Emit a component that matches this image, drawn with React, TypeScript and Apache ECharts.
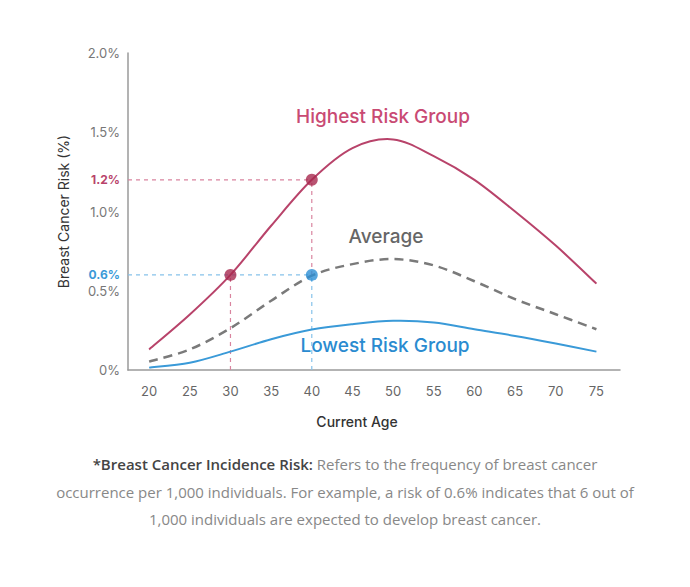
import React, { useEffect, useRef } from "react";
import * as echarts from "echarts";

const ages = [20, 25, 30, 35, 40, 45, 50, 55, 60, 65, 70, 75];
const highest = [0.13, 0.35, 0.6, 0.91, 1.2, 1.4, 1.455, 1.35, 1.2, 1.0, 0.785, 0.545];
const average = [0.053, 0.13, 0.264, 0.437, 0.595, 0.668, 0.7, 0.66, 0.56, 0.447, 0.352, 0.257];
const lowest = [0.015, 0.046, 0.116, 0.194, 0.255, 0.289, 0.31, 0.3, 0.257, 0.215, 0.167, 0.116];
const yTicks = [0, 0.5, 0.6, 1.0, 1.2, 1.5, 2.0];
const pinkDots = [[30, 0.6], [40, 1.2]];
const blueDots = [[40, 0.6]];
const X_MIN = 17.4;
const X_MAX = 77.9;

const PINK = "#b8436a";
const PINK_LIGHT = "#d9849f";
const BLUE = "#3a9ad8";
const BLUE_LIGHT = "#86c2ea";
const FONT = "Inter, 'Noto Sans', sans-serif";
const NOTE_FONT = "'Open Sans', sans-serif";

function curveSeries(name: string, values: number[], stroke: string, lineWidth: number, lineDash?: number[]) {
  return {
    type: "custom",
    name,
    z: 3,
    silent: true,
    data: ages.map((a, i) => [a, values[i]]),
    encode: { x: 0, y: 1 },
    renderItem: (params: any, api: any) => {
      if (params.dataIndex !== 0) return { type: "group", children: [] };
      const p = ages.map((a, i) => api.coord([a, values[i]]) as number[]);
      let d = `M${p[0][0]},${p[0][1]}`;
      for (let i = 0; i < p.length - 1; i++) {
        const p0 = p[Math.max(0, i - 1)];
        const p1 = p[i];
        const p2 = p[i + 1];
        const p3 = p[Math.min(p.length - 1, i + 2)];
        const c1x = p1[0] + (p2[0] - p0[0]) / 6;
        const c1y = p1[1] + (p2[1] - p0[1]) / 6;
        const c2x = p2[0] - (p3[0] - p1[0]) / 6;
        const c2y = p2[1] - (p3[1] - p1[1]) / 6;
        d += ` C${c1x},${c1y} ${c2x},${c2y} ${p2[0]},${p2[1]}`;
      }
      return {
        type: "path",
        shape: { pathData: d },
        style: { fill: "none", stroke, lineWidth, lineDash: lineDash || null, lineCap: "butt" },
      };
    },
  };
}

export default function App() {
  const ref = useRef<HTMLDivElement>(null);
  useEffect(() => {
    document.body.style.margin = "0";
    const chart = echarts.init(ref.current!, null, { renderer: "svg" });
    const dashLine = (data: number[][], color: string) => ({
      type: "line",
      data,
      symbol: "none",
      silent: true,
      z: 1,
      lineStyle: { color, width: 1.2, type: [4, 4] },
    });
    const noteStyle = {
      fill: "#888",
      fontSize: 15,
      fontFamily: NOTE_FONT,
      align: "center",
      verticalAlign: "middle",
    };
    chart.setOption({
      animation: false,
      textStyle: { fontFamily: FONT },
      grid: { left: 128, right: 70, top: 53, bottom: 217 },
      xAxis: {
        type: "value",
        min: X_MIN,
        max: X_MAX,
        name: "Current Age",
        nameLocation: "middle",
        nameGap: 44,
        nameTextStyle: { fontSize: 14, color: "#333", fontWeight: 500, fontFamily: FONT, padding: [0, 34, 0, 0] },
        axisLine: { lineStyle: { color: "#9a9a9a", width: 1.5 } },
        axisTick: { show: false },
        splitLine: { show: false },
        axisLabel: {
          customValues: ages,
          color: "#666",
          fontSize: 13,
          margin: 14,
          fontFamily: FONT,
        },
      },
      yAxis: {
        type: "value",
        min: 0,
        max: 2.0,
        name: "Breast Cancer Risk (%)",
        nameLocation: "middle",
        nameGap: 58,
        nameTextStyle: { fontSize: 14, color: "#333", fontFamily: FONT },
        axisLine: { show: true, lineStyle: { color: "#9a9a9a", width: 1.5 } },
        axisTick: { show: false },
        splitLine: { show: false },
        axisLabel: {
          customValues: yTicks,
          color: "#777",
          fontSize: 13,
          margin: 8,
          fontFamily: FONT,
          formatter: (v: number) => {
            if (Math.abs(v - 1.2) < 1e-6) return "{pink|1.2%}";
            if (Math.abs(v - 0.6) < 1e-6) return "{blue|0.6%}";
            if (v === 0) return "0%";
            return v.toFixed(1) + "%";
          },
          rich: {
            pink: { color: PINK, fontWeight: "bold", fontSize: 12, fontFamily: FONT },
            blue: { color: BLUE, fontWeight: "bold", fontSize: 12, fontFamily: FONT },
          },
        },
      },
      series: [
        dashLine([[X_MIN, pinkDots[1][1]], pinkDots[1]], PINK_LIGHT),
        dashLine([[pinkDots[0][0], 0], pinkDots[0]], PINK_LIGHT),
        dashLine([[pinkDots[1][0], blueDots[0][1]], pinkDots[1]], PINK_LIGHT),
        dashLine([[X_MIN, blueDots[0][1]], blueDots[0]], BLUE_LIGHT),
        dashLine([[blueDots[0][0], 0], blueDots[0]], BLUE_LIGHT),
        curveSeries("Highest Risk Group", highest, PINK, 2),
        curveSeries("Average", average, "#7a7a7a", 2.5, [9, 6]),
        curveSeries("Lowest Risk Group", lowest, BLUE, 2),
        {
          type: "scatter",
          data: pinkDots,
          symbolSize: 12,
          z: 5,
          itemStyle: { color: "#a8294f" },
        },
        {
          type: "scatter",
          data: blueDots,
          symbolSize: 12,
          z: 5,
          itemStyle: { color: "#2d8fd5" },
        },
      ],
      graphic: [
        {
          type: "text",
          x: 383,
          y: 116,
          style: { text: "Highest Risk Group", fill: "#c94a73", fontSize: 19, fontWeight: 500, fontFamily: FONT, align: "center", verticalAlign: "middle" },
        },
        {
          type: "text",
          x: 386,
          y: 236,
          style: { text: "Average", fill: "#666", fontSize: 19, fontWeight: 500, fontFamily: FONT, align: "center", verticalAlign: "middle" },
        },
        {
          type: "text",
          x: 385,
          y: 345,
          style: { text: "Lowest Risk Group", fill: "#2a8bd0", fontSize: 19, fontWeight: 500, fontFamily: FONT, align: "center", verticalAlign: "middle" },
        },
        {
          type: "text",
          x: 345,
          y: 464,
          style: {
            ...noteStyle,
            text: "{b|*Breast Cancer Incidence Risk:} Refers to the frequency of breast cancer",
            rich: { b: { fill: "#444", fontSize: 15, fontWeight: 600, fontFamily: NOTE_FONT } },
          },
        },
        {
          type: "text",
          x: 345,
          y: 492,
          style: { ...noteStyle, text: "occurrence per 1,000 individuals. For example, a risk of 0.6% indicates that 6 out of" },
        },
        {
          type: "text",
          x: 345,
          y: 519,
          style: { ...noteStyle, text: "1,000 individuals are expected to develop breast cancer." },
        },
      ],
    });
    return () => chart.dispose();
  }, []);
  return <div ref={ref} style={{ width: 690, height: 587, background: "#fff" }} />;
}
